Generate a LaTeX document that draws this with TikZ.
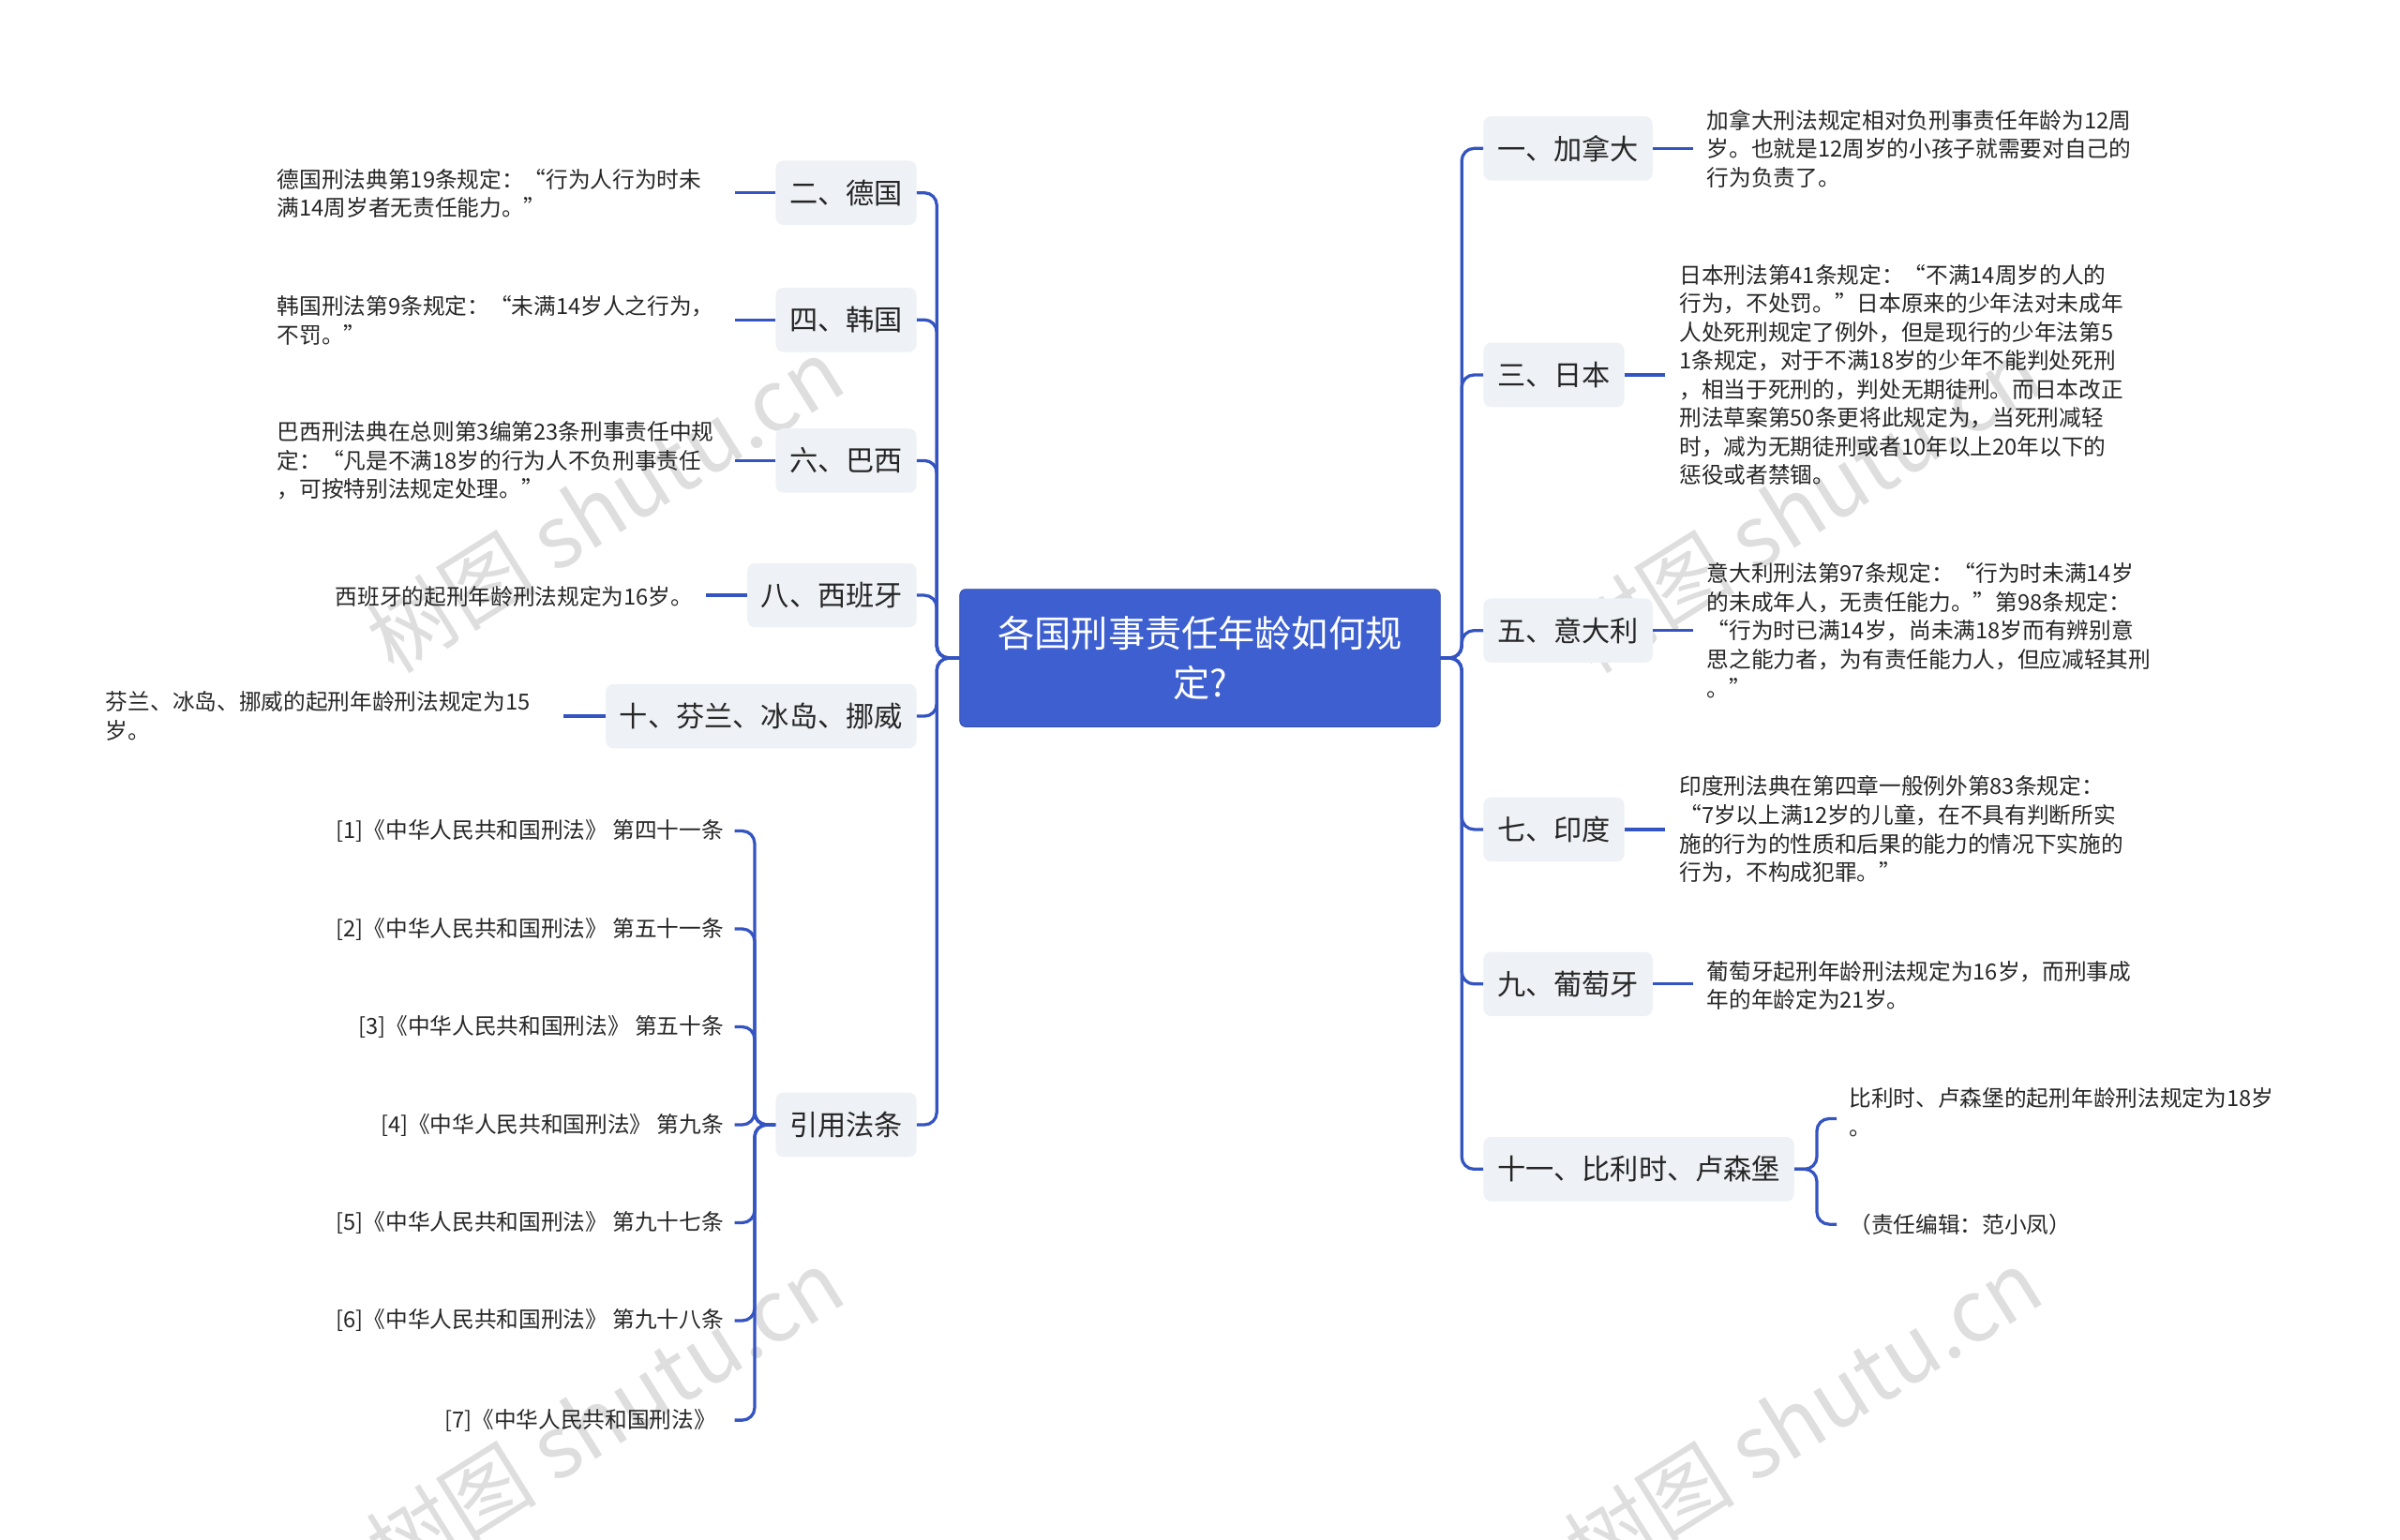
\documentclass[tikz,border=0pt]{standalone}
\usepackage{fontspec}
\setmainfont{Noto Sans CJK SC}
\begin{document}
\begin{tikzpicture}[x=1pt,y=-1pt,
  conn/.style={draw=lc,line width=2pt,rounded corners=8pt},
  topic/.style={fill=nf,rounded corners=5pt,minimum height=42pt,inner xsep=9pt,font=\fontsize{18.5}{22}\selectfont,text=black!85},
  leaf/.style={inner sep=0pt,align=left,font=\fontsize{14.5}{18.7}\selectfont,text=black!85},
  wm/.style={text=black!13,font=\fontsize{56}{60}\selectfont,rotate=32}]
\definecolor{lc}{HTML}{3454C2}
\definecolor{nf}{HTML}{EEF1F5}
\definecolor{cf}{HTML}{3D5FD0}
\useasboundingbox (0,0) rectangle (1568,1006);
% watermarks
\node[wm] (w1) at (395,330) {树图 shutu.cn};
\node[wm] (w2) at (395,925) {树图 shutu.cn};
\node[wm] (w3) at (1178,330) {树图 shutu.cn};
\node[wm] (w4) at (1178,925) {树图 shutu.cn};
% center
\node[fill=cf,draw=cf!80!black,rounded corners=4pt,minimum width=314pt,minimum height=90pt,text=white,align=center,font=\fontsize{24}{33}\selectfont] (c) at (784,430) {各国刑事责任年龄如何规\\定?};
% left topics
\node[topic,anchor=east] (de) at (599,126) {二、德国};
\node[topic,anchor=east] (kr) at (599,209) {四、韩国};
\node[topic,anchor=east] (br) at (599,301) {六、巴西};
\node[topic,anchor=east] (es) at (599,389) {八、西班牙};
\node[topic,anchor=east] (fi) at (599,468) {十、芬兰、冰岛、挪威};
\node[topic,anchor=east] (ref) at (599,735) {引用法条};
% right topics
\node[topic,anchor=west] (ca) at (969,97) {一、加拿大};
\node[topic,anchor=west] (jp) at (969,245) {三、日本};
\node[topic,anchor=west] (it) at (969,412) {五、意大利};
\node[topic,anchor=west] (in) at (969,542) {七、印度};
\node[topic,anchor=west] (pt) at (969,643) {九、葡萄牙};
\node[topic,anchor=west] (be) at (969,764) {十一、比利时、卢森堡};
% spines
\foreach \n in {de,kr,br,es,fi,ref} \draw[conn] (c.west) -- (612,430) |- (\n.east);
\foreach \n in {ca,jp,it,in,pt,be} \draw[conn] (c.east) -- (955,430) |- (\n.west);
% left leaves
\node[leaf,anchor=west] (lde) at (181,126.5) {德国刑法典第19条规定：“行为人行为时未\\满14周岁者无责任能力。”};
\node[leaf,anchor=west] (lkr) at (181,209.5) {韩国刑法第9条规定：“未满14岁人之行为，\\不罚。”};
\node[leaf,anchor=west] (lbr) at (181,301) {巴西刑法典在总则第3编第23条刑事责任中规\\定：“凡是不满18岁的行为人不负刑事责任\\，可按特别法规定处理。”};
\node[leaf,anchor=east] (les) at (453,390) {西班牙的起刑年龄刑法规定为16岁。};
\node[leaf,anchor=west] (lfi) at (69,468) {芬兰、冰岛、挪威的起刑年龄刑法规定为15\\岁。};
\draw[conn] (de.west) -- (480,126);
\draw[conn] (kr.west) -- (480,209);
\draw[conn] (br.west) -- (480,301);
\draw[conn] (es.west) -- (461,389);
\draw[conn] (fi.west) -- (368,468);
% refs
\foreach \i/\t/\y in {1/{[1]《中华人民共和国刑法》 第四十一条}/543,2/{[2]《中华人民共和国刑法》 第五十一条}/607,3/{[3]《中华人民共和国刑法》 第五十条}/671,4/{[4]《中华人民共和国刑法》 第九条}/735,5/{[5]《中华人民共和国刑法》 第九十七条}/799,6/{[6]《中华人民共和国刑法》 第九十八条}/863}{
  \node[leaf,anchor=east] (r\i) at (473,\y) {\t};
  \draw[conn] (ref.west) -- (493,735) |- ([xshift=7pt]r\i.east);
}
\node[leaf,anchor=east] (r7) at (468,928) {[7]《中华人民共和国刑法》};
\draw[conn] (ref.west) -- (493,735) |- ([xshift=12pt]r7.east);
% right leaves
\node[leaf,anchor=west] (lca) at (1115,97) {加拿大刑法规定相对负刑事责任年龄为12周\\岁。也就是12周岁的小孩子就需要对自己的\\行为负责了。};
\node[leaf,anchor=west] (ljp) at (1097,245) {日本刑法第41条规定：“不满14周岁的人的\\行为，不处罚。”日本原来的少年法对未成年\\人处死刑规定了例外，但是现行的少年法第5\\1条规定，对于不满18岁的少年不能判处死刑\\，相当于死刑的，判处无期徒刑。而日本改正\\刑法草案第50条更将此规定为，当死刑减轻\\时，减为无期徒刑或者10年以上20年以下的\\惩役或者禁锢。};
\node[leaf,anchor=west] (lit) at (1115,412) {意大利刑法第97条规定：“行为时未满14岁\\的未成年人，无责任能力。”第98条规定：\\“行为时已满14岁，尚未满18岁而有辨别意\\思之能力者，为有责任能力人，但应减轻其刑\\。”};
\node[leaf,anchor=west] (lin) at (1097,542) {印度刑法典在第四章一般例外第83条规定：\\“7岁以上满12岁的儿童，在不具有判断所实\\施的行为的性质和后果的能力的情况下实施的\\行为，不构成犯罪。”};
\node[leaf,anchor=west] (lpt) at (1115,644) {葡萄牙起刑年龄刑法规定为16岁，而刑事成\\年的年龄定为21岁。};
\node[leaf,anchor=west] (lb1) at (1208,727) {比利时、卢森堡的起刑年龄刑法规定为18岁\\。};
\node[leaf,anchor=west] (lb2) at (1208,800) {（责任编辑：范小凤）};
\draw[conn] (ca.east) -- (1106,97);
\draw[conn] (jp.east) -- (1088,245);
\draw[conn] (it.east) -- (1106,412);
\draw[conn] (in.east) -- (1088,542);
\draw[conn] (pt.east) -- (1106,643);
\draw[conn] (be.east) -- (1187,764) |- ([xshift=-8pt]lb1.west |- 0,731);
\draw[conn] (be.east) -- (1187,764) |- ([xshift=-8pt]lb2.west);
\end{tikzpicture}
\end{document}
